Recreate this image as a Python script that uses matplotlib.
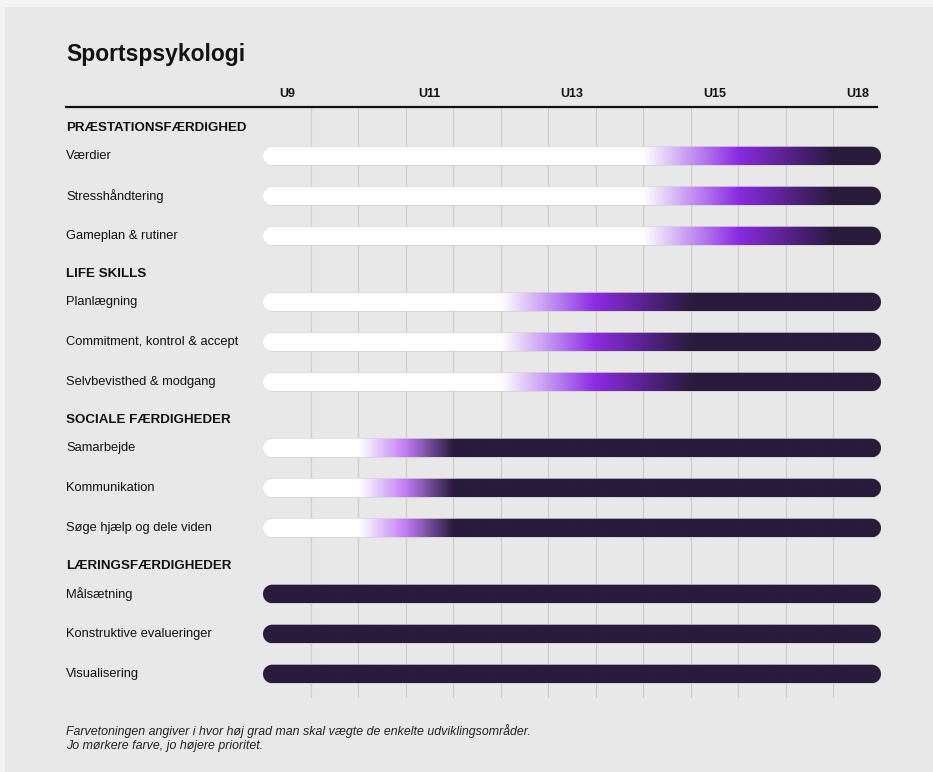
import matplotlib
matplotlib.use("Agg")
import matplotlib.pyplot as plt
import numpy as np
from matplotlib.patches import PathPatch, Rectangle
from matplotlib.path import Path
from matplotlib.colors import LinearSegmentedColormap
from matplotlib.lines import Line2D

plt.rcParams['font.family'] = ['Liberation Sans', 'DejaVu Sans']

# ---------------- data ----------------
title = "Sportspsykologi"
tick_labels = ["U9", "U11", "U13", "U15", "U18"]
tick_columns = [0.5, 3.5, 6.5, 9.5, 12.5]
n_columns = 13

groups = ["PRÆSTATIONSFÆRDIGHED", "LIFE SKILLS", "SOCIALE FÆRDIGHEDER", "LÆRINGSFÆRDIGHEDER"]
group_items = [
    ["Værdier", "Stresshåndtering", "Gameplan & rutiner"],
    ["Planlægning", "Commitment, kontrol & accept", "Selvbevisthed & modgang"],
    ["Samarbejde", "Kommunikation", "Søge hjælp og dele viden"],
    ["Målsætning", "Konstruktive evalueringer", "Visualisering"],
]
# column where colour starts, reaches mid purple, reaches full dark
fade_start = [8, 5, 2, 0]
fade_peak = [10, 7, 3, 0]
fade_full = [12, 9, 4, 0]
peak_colors = ["#8a2be2", "#8a2be2", "#c07cf2", "#2a1b3d"]

footnote = ("Farvetoningen angiver i hvor høj grad man skal vægte de enkelte udviklingsområder.\n"
            "Jo mørkere farve, jo højere prioritet.")

# ---------------- style ----------------
W, H = 933, 772
DARK = "#291b3c"
WHITE = "#ffffff"
CARD = "#e8e8e8"

fig = plt.figure(figsize=(W / 100, H / 100), dpi=100)
fig.patch.set_facecolor("#f3f3f3")
fig.add_artist(Rectangle((5 / W, 0), 1, 1 - 7 / H, transform=fig.transFigure,
                         facecolor=CARD, edgecolor="none", zorder=-10))

# axes area in pixels
ax_left, ax_right = 263, 881
ax_top, ax_bottom = 107, 698
ax = fig.add_axes([ax_left / W, 1 - ax_bottom / H, (ax_right - ax_left) / W, (ax_bottom - ax_top) / H])
ax.set_facecolor("none")
ax_h = ax_bottom - ax_top
ax.set_xlim(0, n_columns)
ax.set_ylim(ax_h, 0)
ax.axis("off")

# grid lines
for c in range(1, n_columns):
    ax.plot([c, c], [0, ax_h], color="#cdcdcd", lw=0.9, zorder=0, solid_capstyle="butt")

# layout rows
header_pos = []
row_pos = []
y = 21
for gi, items in enumerate(group_items):
    if gi > 0:
        y = row_pos[-1][-1] + 38
    header_pos.append(y)
    rows = []
    y += 28
    for k in range(len(items)):
        rows.append(y)
        y += 40
    row_pos.append(rows)

bar_h = 18.5
x_per_px = n_columns / (ax_right - ax_left)
label_x = 66 / W


def stadium(x0, x1, yc, h):
    r = h / 2
    rx = r * x_per_px
    t = np.linspace(-np.pi / 2, np.pi / 2, 40)
    right = np.column_stack([x1 - rx + rx * np.cos(t), yc + r * np.sin(t)])
    t2 = np.linspace(np.pi / 2, 3 * np.pi / 2, 40)
    left = np.column_stack([x0 + rx + rx * np.cos(t2), yc + r * np.sin(t2)])
    verts = np.vstack([right, left, right[:1]])
    codes = [Path.MOVETO] + [Path.LINETO] * (len(verts) - 2) + [Path.CLOSEPOLY]
    return Path(verts, codes)


def make_cmap(gi):
    if fade_full[gi] <= 0:
        return LinearSegmentedColormap.from_list("c", [DARK, DARK])
    s, p, f = fade_start[gi], fade_peak[gi], fade_full[gi]
    stops = [(0.0, WHITE), (s / n_columns, WHITE), (p / n_columns, peak_colors[gi]),
             (f / n_columns, DARK), (1.0, DARK)]
    return LinearSegmentedColormap.from_list("c", stops, N=512)

trans_lbl = matplotlib.transforms.blended_transform_factory(fig.transFigure, ax.transData)

for gi, g in enumerate(groups):
    ax.text(label_x, header_pos[gi], g, transform=trans_lbl, fontsize=9.6,
            fontweight="bold", va="center", ha="left", color="#111111")
    cmap = make_cmap(gi)
    grad = np.linspace(0, 1, 1024).reshape(1, -1)
    for name, yc in zip(group_items[gi], row_pos[gi]):
        ax.text(label_x, yc, name, transform=trans_lbl, fontsize=9.3,
                va="center", ha="left", color="#111111")
        path = stadium(0, n_columns, yc, bar_h)
        outline = PathPatch(path, facecolor="none", edgecolor="#cfcfcf", lw=0.6, zorder=1.5)
        ax.add_patch(outline)
        clip = PathPatch(path, facecolor="none", edgecolor="none")
        ax.add_patch(clip)
        im = ax.imshow(grad, cmap=cmap, aspect="auto", interpolation="bilinear",
                       extent=[0, n_columns, yc + bar_h / 2, yc - bar_h / 2], zorder=2)
        im.set_clip_path(clip)

ax.set_xlim(0, n_columns)
ax.set_ylim(ax_h, 0)

# tick labels
trans_tick = matplotlib.transforms.blended_transform_factory(ax.transData, fig.transFigure)
for lbl, c in zip(tick_labels, tick_columns):
    ax.text(c, 1 - 94 / H, lbl, transform=trans_tick, ha="center", va="center",
            fontsize=9, fontweight="bold", color="#111111")

# header rule
fig.add_artist(Line2D([66 / W, 877 / W], [1 - 107 / H, 1 - 107 / H], transform=fig.transFigure,
                      color="#111111", lw=1.6))

# title
fig.text(66 / W, 1 - 55 / H, title, fontsize=16.5, fontweight="bold", va="center", ha="left",
         color="#111111")

# footnote
fig.text(66 / W, 1 - 738 / H, footnote, fontsize=8.9, style="italic", va="center", ha="left",
         color="#222222", linespacing=1.25)

fig.savefig("out.png", dpi=100, facecolor=fig.get_facecolor())
